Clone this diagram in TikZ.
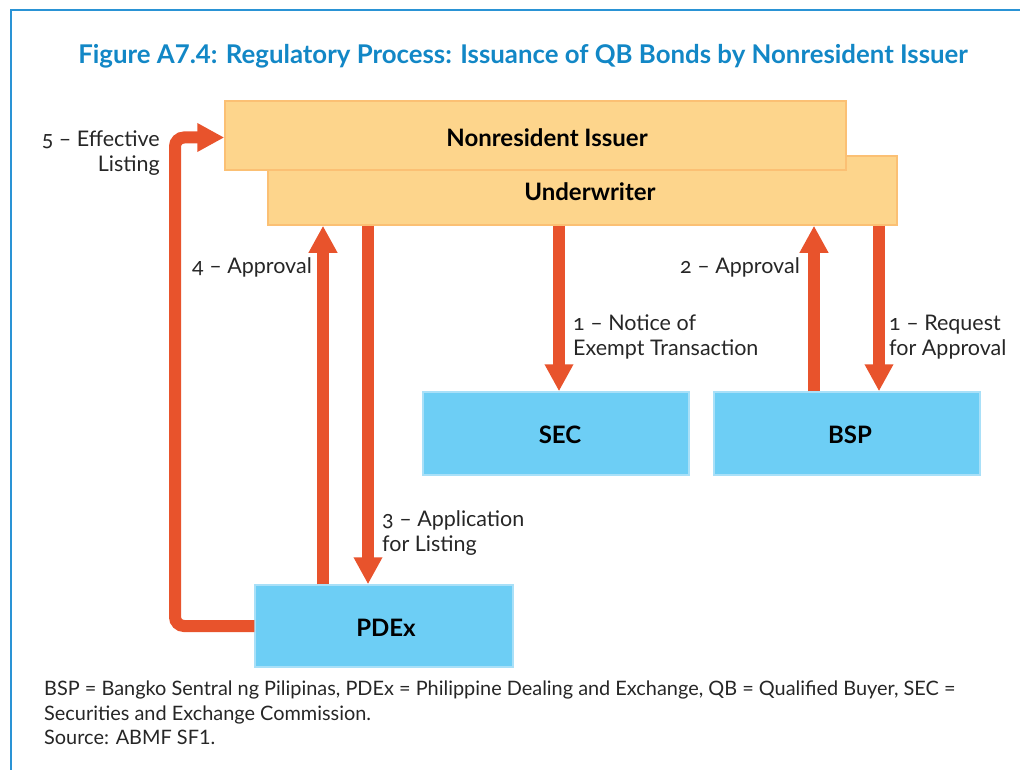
\documentclass[tikz,border=0pt]{standalone}
\usepackage{fontspec}
\setmainfont{Lato}
\newfontfamily\lblfont{Lato}[Numbers=OldStyle]
\usetikzlibrary{arrows.meta,calc}
\definecolor{frameblue}{HTML}{2A93D5}
\definecolor{titleblue}{HTML}{1287C6}
\definecolor{orfill}{HTML}{FDD58C}
\definecolor{ordraw}{HTML}{FBC074}
\definecolor{blfill}{HTML}{6DCEF5}
\definecolor{bldraw}{HTML}{A9E0F8}
\definecolor{arrred}{HTML}{E8532C}
\tikzset{
  orbox/.style={draw=ordraw, fill=orfill, line width=1.5pt, inner sep=0pt},
  blbox/.style={draw=bldraw, fill=blfill, line width=1.5pt, inner sep=0pt},
  boxtext/.style={font=\fontsize{24}{28}\selectfont\bfseries, text=black, inner sep=0pt},
  lbl/.style={font=\lblfont\fontsize{21.5}{25}\selectfont, text=black!85, inner sep=0pt, align=left},
  arr/.style={draw=arrred, line width=12pt, -{Triangle[width=27pt,length=27pt]}},
}
\begin{document}
\begin{tikzpicture}[x=1pt,y=-1pt]
\useasboundingbox (0,0) rectangle (1020,770);
% frame
\draw[frameblue, line width=1.5pt] (11,780) -- (11,10) -- (1030,10);
% title
\node[font=\fontsize{25.8}{30}\selectfont\bfseries, text=titleblue, inner sep=0pt] (title) at (523,56) {Figure A7.4: Regulatory Process: Issuance of QB Bonds by Nonresident Issuer};
% boxes
\node[orbox, minimum width=629, minimum height=69] (under) at (582.5,190.5) {};
\node[orbox, minimum width=621, minimum height=69] (issuer) at (535.5,135.5) {};
\node[boxtext] (issuertxt) at (547,138) {Nonresident Issuer};
\node[boxtext] (undertxt) at (590,192) {Underwriter};
\node[blbox, minimum width=266, minimum height=83] (sec) at (556,433.5) {};
\node[boxtext] (sectxt) at (560,435) {SEC};
\node[blbox, minimum width=266, minimum height=83] (bsp) at (847,433.5) {};
\node[boxtext] (bsptxt) at (850,435) {BSP};
\node[blbox, minimum width=258, minimum height=82] (pdex) at (384,626) {};
\node[boxtext] (pdextxt) at (386,628) {PDEx};
% x positions of the arrows
\coordinate (x5) at (175,0);
\coordinate (x4) at (323,0);
\coordinate (x3) at (368,0);
\coordinate (x1a) at (559,0);
\coordinate (x2) at (814,0);
\coordinate (x1b) at (879,0);
% arrows
\draw[arr] (pdex.north -| x4) -- (under.south -| x4);
\draw[arr] (under.south -| x3) -- (pdex.north -| x3);
\draw[arr] (under.south -| x1a) -- (sec.north -| x1a);
\draw[arr] (bsp.north -| x2) -- (under.south -| x2);
\draw[arr] (under.south -| x1b) -- (bsp.north -| x1b);
\draw[arr, rounded corners=9pt] (pdex.west) -- (pdex.west -| x5) |- ($(issuer.west)+(0,2)$);
% labels
\node[lbl, anchor=north east, align=right] (l5) at (160,131) {5 – Effective\\Listing};
\node[lbl, anchor=west] (l4) at (192,267) {4 – Approval};
\node[lbl, anchor=west] (l2) at (680,267) {2 – Approval};
\node[lbl, anchor=north west] (l1a) at (573,315) {1 – Notice of\\Exempt Transaction};
\node[lbl, anchor=north west] (l1b) at (889,315) {1 – Request\\for Approval};
\node[lbl, anchor=north west] (l3) at (382,510) {3 – Application\\for Listing};
% footnote
\node[font=\fontsize{19.9}{24.5}\selectfont, text=black!85, inner sep=0pt, anchor=north west, align=left] (note) at (44,681)
 {BSP = Bangko Sentral ng Pilipinas, PDEx = Philippine Dealing and Exchange, QB = Qualified Buyer, SEC =\\Securities and Exchange Commission.\\Source: ABMF SF1.};
\end{tikzpicture}
\end{document}
